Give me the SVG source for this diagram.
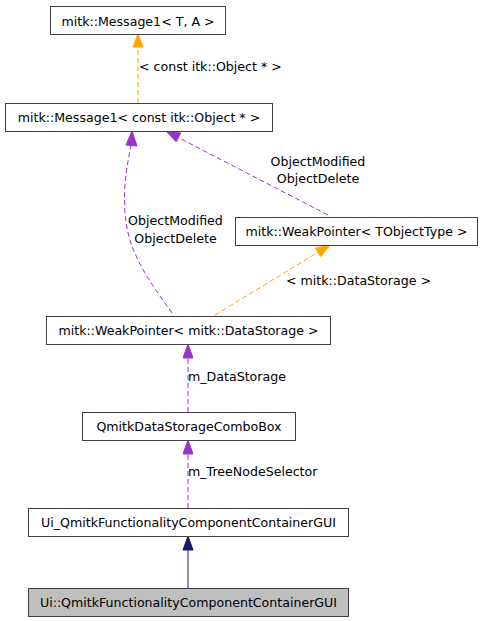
<svg xmlns="http://www.w3.org/2000/svg" width="481" height="621" viewBox="0 0 481 621">
<style>
.n rect{fill:#ffffff;stroke:#404040;stroke-width:1}
.n text{font-family:"DejaVu Sans",sans-serif;font-size:12.6px;text-anchor:middle;fill:#000}
.lbl{font-family:"DejaVu Sans",sans-serif;font-size:12.6px;fill:#000}
.p{fill:none;stroke:#9a32cd;stroke-width:1;stroke-dasharray:5,3}
.o{fill:none;stroke:#ffa500;stroke-width:1;stroke-dasharray:5,3}
.b{fill:none;stroke:#191970;stroke-width:1}
.ph{fill:#9a32cd;stroke:#9a32cd}
.oh{fill:#ffa500;stroke:#ffa500}
.bh{fill:#191970;stroke:#191970}
</style>
<rect width="481" height="621" fill="#ffffff"/>
<g id="connectors">
<line class="o" x1="138" y1="103" x2="138" y2="47"/>
<polygon class="oh" points="133,47 143,47 138,34"/>
<text class="lbl" x="139" y="71">&lt; const itk::Object * &gt;</text>

<path class="p" d="M172,313 C150,282 127,252 125,212 C123,182 128,162 131,145"/>
<polygon class="ph" points="126,145 137,146 132,131"/>
<text class="lbl" x="175.5" y="225" text-anchor="middle">ObjectModified</text>
<text class="lbl" x="175.5" y="243" text-anchor="middle">ObjectDelete</text>

<line class="p" x1="328" y1="215" x2="178" y2="137.4"/>
<polygon class="ph" points="176.1,141.8 180.7,133 166,131"/>
<text class="lbl" x="318" y="166" text-anchor="middle">ObjectModified</text>
<text class="lbl" x="318" y="183" text-anchor="middle">ObjectDelete</text>

<line class="o" x1="215" y1="315" x2="318" y2="252.3"/>
<polygon class="oh" points="320.6,256.6 315.4,248 330,245"/>
<text class="lbl" x="286" y="285">&lt; mitk::DataStorage &gt;</text>

<line class="p" x1="188" y1="412" x2="188" y2="358"/>
<polygon class="ph" points="183,358 193,358 188,344"/>
<text class="lbl" x="188" y="381">m_DataStorage</text>

<line class="p" x1="188" y1="508" x2="188" y2="454"/>
<polygon class="ph" points="183,454 193,454 188,440"/>
<text class="lbl" x="188" y="476">m_TreeNodeSelector</text>

<line class="b" x1="188" y1="588" x2="188" y2="550"/>
<polygon class="bh" points="183,550 193,550 188,536"/>
</g>
<g id="node1" class="n">
<rect x="50.5" y="6.5" width="175" height="28"/>
<text x="138" y="25.5">mitk::Message1&lt; T, A &gt;</text>
</g>
<g id="node2" class="n">
<rect x="5.5" y="103.5" width="267" height="28"/>
<text x="139" y="122">mitk::Message1&lt; const itk::Object * &gt;</text>
</g>
<g id="node3" class="n">
<rect x="235.5" y="217.5" width="242" height="28"/>
<text x="356.5" y="236">mitk::WeakPointer&lt; TObjectType &gt;</text>
</g>
<g id="node4" class="n">
<rect x="46.5" y="316.5" width="284" height="28"/>
<text x="188.5" y="335">mitk::WeakPointer&lt; mitk::DataStorage &gt;</text>
</g>
<g id="node5" class="n">
<rect x="82.5" y="412.5" width="213" height="28"/>
<text x="189" y="431">QmitkDataStorageComboBox</text>
</g>
<g id="node6" class="n">
<rect x="28.5" y="508.5" width="320" height="28"/>
<text x="188.5" y="527">Ui_QmitkFunctionalityComponentContainerGUI</text>
</g>
<g id="node7" class="n">
<rect x="28.5" y="588.5" width="320" height="28" style="fill:#bfbfbf"/>
<text x="188.5" y="607">Ui::QmitkFunctionalityComponentContainerGUI</text>
</g>
</svg>
